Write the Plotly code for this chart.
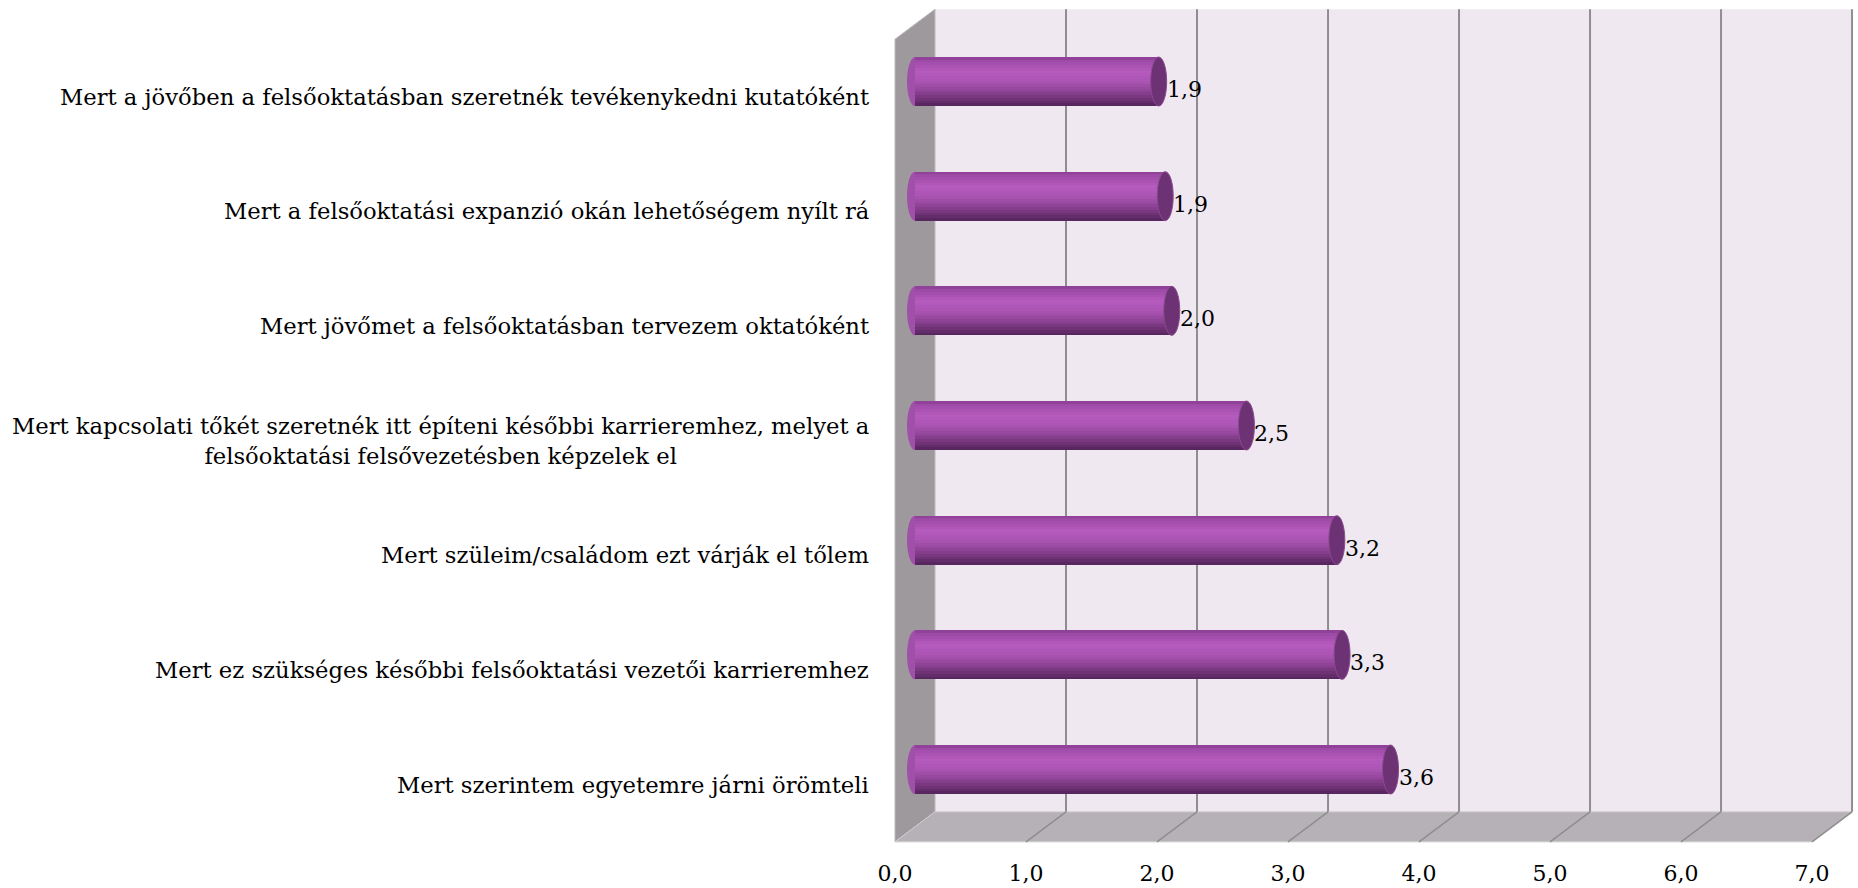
import plotly.graph_objects as go

# ---------------- data ----------------
categories = [
    "Mert a jövőben a felsőoktatásban szeretnék tevékenykedni kutatóként",
    "Mert a felsőoktatási expanzió okán lehetőségem nyílt rá",
    "Mert jövőmet a felsőoktatásban tervezem oktatóként",
    "Mert kapcsolati tőkét szeretnék itt építeni későbbi karrieremhez, melyet a<br>felsőoktatási felsővezetésben képzelek el",
    "Mert szüleim/családom ezt várják el tőlem",
    "Mert ez szükséges későbbi felsőoktatási vezetői karrieremhez",
    "Mert szerintem egyetemre járni örömteli",
]
values = [1.86, 1.91, 1.96, 2.53, 3.22, 3.26, 3.63]
value_labels = ["1,9", "1,9", "2,0", "2,5", "3,2", "3,3", "3,6"]
x_ticks = [0, 1, 2, 3, 4, 5, 6, 7]
x_tick_labels = ["0,0", "1,0", "2,0", "3,0", "4,0", "5,0", "6,0", "7,0"]

# ---------------- style ----------------
FONT = "DejaVu Serif"
DX = 0.1527   # half depth of the 3D frame along x (data units)
DY = 0.1308   # half depth of the 3D frame along y (data units)
BAR_W = 0.427
CAP_HW = 0.061
positions = list(range(len(categories)))
XMAX = x_ticks[-1]
Y_TOP, Y_BOT = -0.5, len(categories) - 0.5

stops = [
    (0.00, (0x86, 0x3C, 0x8D)),
    (0.06, (0x9C, 0x49, 0xA4)),
    (0.30, (0xB5, 0x5B, 0xBE)),
    (0.50, (0xAB, 0x54, 0xB3)),
    (0.70, (0x8E, 0x43, 0x96)),
    (0.86, (0x6E, 0x32, 0x75)),
    (1.00, (0x54, 0x24, 0x59)),
]


def grad(t):
    for (t0, c0), (t1, c1) in zip(stops[:-1], stops[1:]):
        if t <= t1:
            f = (t - t0) / (t1 - t0) if t1 > t0 else 0
            c = [round(a + (b - a) * f) for a, b in zip(c0, c1)]
            return "rgb(%d,%d,%d)" % tuple(c)
    return "rgb(%d,%d,%d)" % stops[-1][1]


fig = go.Figure()

NB = 18
bw = BAR_W / NB
for k in range(NB):
    start = -BAR_W / 2 + k * bw
    fig.add_trace(go.Bar(
        y=positions, x=values, base=0, orientation="h",
        width=BAR_W - k * bw, offset=start,
        marker=dict(color=grad((k + 0.5) / NB), line=dict(width=0)),
        hoverinfo="skip", showlegend=False,
    ))

shapes = []
# back wall
shapes.append(dict(type="rect", xref="x", yref="y", layer="below",
                   x0=0 + DX, x1=XMAX + DX, y0=Y_TOP - DY, y1=Y_BOT - DY,
                   fillcolor="#EFE8F1", line=dict(width=0)))
# side wall
shapes.append(dict(type="path", xref="x", yref="y", layer="below",
                   path=f"M {-DX},{Y_TOP + DY} L {DX},{Y_TOP - DY} L {DX},{Y_BOT - DY} L {-DX},{Y_BOT + DY} Z",
                   fillcolor="#9D999D", line=dict(color="#BDB9BD", width=1)))
# floor
shapes.append(dict(type="path", xref="x", yref="y", layer="below",
                   path=f"M {-DX},{Y_BOT + DY} L {DX},{Y_BOT - DY} L {XMAX + DX},{Y_BOT - DY} L {XMAX - DX},{Y_BOT + DY} Z",
                   fillcolor="#B6B1B6", line=dict(color="#CFCBCF", width=1)))
# gridlines on back wall and floor
for t in x_ticks[1:]:
    shapes.append(dict(type="line", xref="x", yref="y", layer="below",
                       x0=t + DX, x1=t + DX, y0=Y_TOP - DY, y1=Y_BOT - DY,
                       line=dict(color="#8E8E8E", width=2)))
    shapes.append(dict(type="line", xref="x", yref="y", layer="below",
                       x0=t + DX, x1=t - DX, y0=Y_BOT - DY, y1=Y_BOT + DY,
                       line=dict(color="#8E8E8E", width=1.5)))
# cylinder caps
for p, v in zip(positions, values):
    shapes.append(dict(type="circle", xref="x", yref="y", layer="below",
                       x0=-CAP_HW, x1=CAP_HW, y0=p - BAR_W / 2, y1=p + BAR_W / 2,
                       fillcolor="#A150A9", line=dict(width=0)))
    shapes.append(dict(type="circle", xref="x", yref="y", layer="above",
                       x0=v - CAP_HW, x1=v + CAP_HW, y0=p - BAR_W / 2, y1=p + BAR_W / 2,
                       fillcolor="#6C3274", line=dict(color="#8A4A90", width=1)))

annotations = []
for p, c in zip(positions, categories):
    annotations.append(dict(xref="paper", yref="y", x=0, y=p + DY,
                            xanchor="right", yanchor="middle", xshift=-14,
                            text=c, align="center", showarrow=False,
                            font=dict(family=FONT, size=22.7, color="#000000")))
for p, v, lab in zip(positions, values, value_labels):
    annotations.append(dict(xref="x", yref="y", x=v, y=p,
                            xanchor="left", yanchor="middle", xshift=6, yshift=-8,
                            text=lab, showarrow=False,
                            font=dict(family=FONT, size=22, color="#000000")))

fig.update_layout(
    width=1858, height=888,
    margin=dict(l=885, r=2, t=4, b=42),
    paper_bgcolor="white", plot_bgcolor="white",
    barmode="overlay", bargap=0,
    shapes=shapes, annotations=annotations,
    xaxis=dict(range=[-0.229, 7.183], showgrid=False, zeroline=False,
               showline=False, ticks="",
               tickvals=[t - DX for t in x_ticks], ticktext=x_tick_labels,
               tickfont=dict(family=FONT, size=22, color="#000000"),
               ticklabelstandoff=12),
    yaxis=dict(range=[6.667, -0.676], showgrid=False, zeroline=False,
               showline=False, showticklabels=False, ticks=""),
    showlegend=False,
)

fig.write_html(
    "out.html",
    config={"displayModeBar": False},
    post_script="document.body.style.margin='0';document.body.style.padding='0';document.body.style.overflow='hidden';",
)
